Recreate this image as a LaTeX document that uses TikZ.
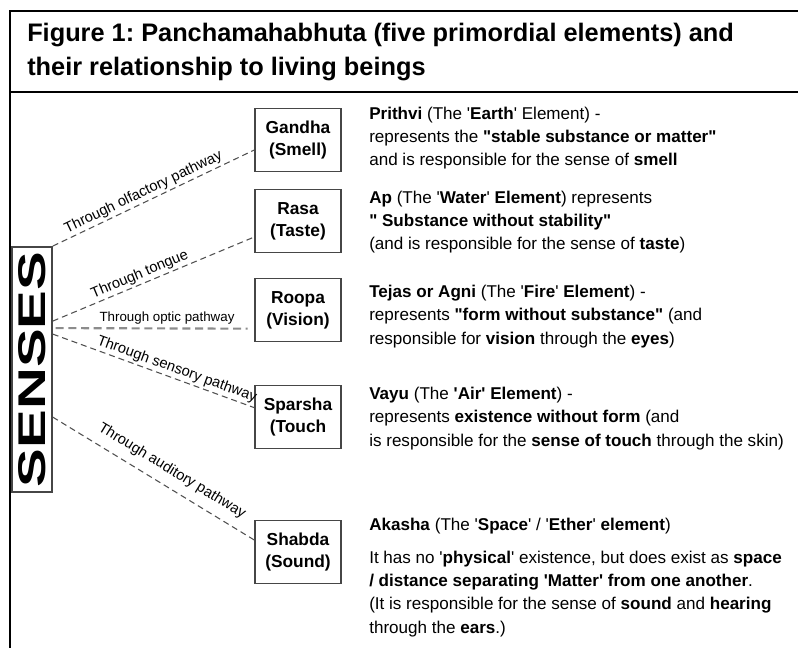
\documentclass[tikz,border=0pt]{standalone}
\usepackage{fontspec}
\setmainfont{Liberation Sans}[Ligatures=TeXOff]
\usepackage{graphicx}
\usepackage{tikz}
\usetikzlibrary{arrows,shapes,calc}
\frenchspacing

\begin{document}
\begin{tikzpicture}[x=0.75pt,y=-0.75pt]
    \definecolor{myboxgray}{RGB}{70,70,70}
    \definecolor{mylinegray}{RGB}{80,80,80}
    \definecolor{myopticgray}{RGB}{140,140,140}

    % styles
    \tikzstyle{sense}=[rectangle,draw=myboxgray,line width=1.1pt,minimum width=64.5pt,minimum height=47pt,inner sep=1pt,align=center,font=\fontsize{13}{16.5}\selectfont\bfseries]
    \tikzstyle{desc}=[anchor=base west,align=left,inner sep=0pt,font=\fontsize{12.8}{17.5}\selectfont]  % base = last line
    \tikzstyle{pathway}=[draw=mylinegray,line width=0.8pt,dash pattern=on 4.5pt off 3pt]
    \tikzstyle{lbl}=[sloped,above,font=\fontsize{11}{13}\selectfont,inner sep=1.5pt]

    \useasboundingbox (0,0) rectangle (798,648);

    % frame and title
    \draw[line width=1.5pt] (798,11) -- (10,11) -- (10,648);
    \draw[line width=1.5pt] (10,92) -- (798,92);
    \node[anchor=base west,align=left,inner sep=0pt,font=\fontsize{19}{26}\selectfont\bfseries](title) at (27,76) {Figure 1: Panchamahabhuta (five primordial elements) and\\their relationship to living beings};

    % senses box
    \node[rectangle,draw=myboxgray,line width=1.1pt,minimum width=30pt,minimum height=184pt,inner sep=0pt,font=\fontsize{29}{29}\selectfont\bfseries](senses) at (32,369.5) {\rotatebox{90}{\scalebox{1.5}[1]{SENSES}}};

    % the five senses
    \node[sense](gandha) at (298,140) {Gandha\\(Smell)};
    \node[sense](rasa) at (298,221) {Rasa\\(Taste)};
    \node[sense](roopa) at (298,310) {Roopa\\(Vision)};
    \node[sense](sparsha) at (298,417) {Sparsha\\(Touch};
    \node[sense](shabda) at (298,552) {Shabda\\(Sound)};

    % descriptions
    \node[desc](prithvi) at (369,166) {\textbf{Prithvi} (The '\textbf{Earth}' Element) -\\represents the \textbf{"stable substance or matter"}\\and is responsible for the sense of \textbf{smell}};
    \node[desc](ap) at (369,250) {\textbf{Ap} (The '\textbf{Water}' \textbf{Element}) represents\\\textbf{" Substance without stability"}\\(and is responsible for the sense of \textbf{taste})};
    \node[desc](tejas) at (369,344) {\textbf{Tejas or Agni} (The '\textbf{Fire}' \textbf{Element}) -\\represents \textbf{"form without substance"} (and\\responsible for \textbf{vision} through the \textbf{eyes})};
    \node[desc](vayu) at (369,446) {\textbf{Vayu} (The \textbf{'Air' Element}) -\\represents \textbf{existence without form} (and\\is responsible for the \textbf{sense of touch} through the skin)};
    \node[desc](akasha) at (369,633) {\textbf{Akasha} (The '\textbf{Space}' / '\textbf{Ether}' \textbf{element})\\[7pt]It has no '\textbf{physical}' existence, but does exist as \textbf{space}\\\textbf{/ distance separating 'Matter' from one another}.\\(It is responsible for the sense of \textbf{sound} and \textbf{hearing}\\through the \textbf{ears}.)};

    % start points on the senses box
    \coordinate (s1) at (senses.north east);
    \coordinate (s2) at ($(senses.north east)+(0,75)$);
    \coordinate (s3) at ($(senses.north east)+(3,82)$);
    \coordinate (s4) at ($(senses.north east)+(0,88)$);
    \coordinate (s5) at ($(senses.north east)+(0,171)$);

    % connectors
    \draw[pathway](s1) -- node[lbl,pos=0.47]{Through olfactory pathway} ([yshift=-7.5pt]gandha.west);
    \draw[pathway](s2) -- node[lbl,pos=0.45]{Through tongue} ([yshift=-12pt]rasa.west);
    \draw[draw=myopticgray,line width=1.6pt,dash pattern=on 6pt off 3.5pt](s3) -- node[above,pos=0.58,font=\fontsize{10}{12}\selectfont,inner sep=2pt]{Through optic pathway} ([xshift=-5pt,yshift=-14pt]roopa.west);
    \draw[pathway](s4) -- node[lbl,pos=0.6]{Through sensory pathway} ([yshift=7pt]sparsha.west);
    \draw[pathway](s5) -- node[lbl,pos=0.55,above=5pt]{Through auditory pathway} ([yshift=9pt]shabda.west);
\end{tikzpicture}
\end{document}
